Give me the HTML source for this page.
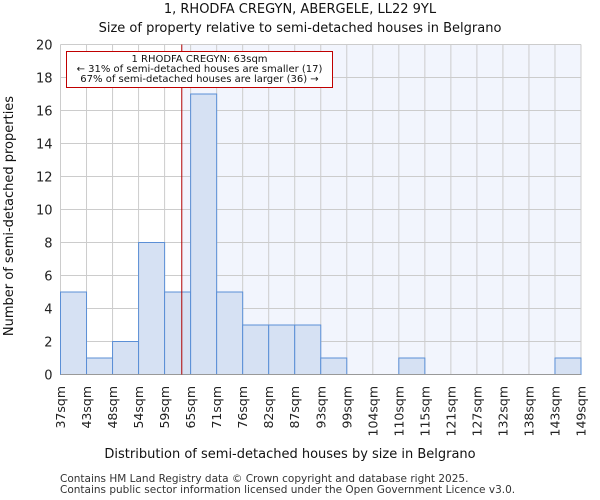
<!DOCTYPE html>
<html><head><meta charset="utf-8"><style>body{margin:0;background:#fff}svg{display:block;font-family:"DejaVu Sans","Liberation Sans",sans-serif}</style></head>
<body>
<svg id="c" width="600" height="500"></svg>
<script>
const labels=["37sqm","43sqm","48sqm","54sqm","59sqm","65sqm","71sqm","76sqm","82sqm","87sqm","93sqm","99sqm","104sqm","110sqm","115sqm","121sqm","127sqm","132sqm","138sqm","143sqm","149sqm"];
const counts=[5,1,2,8,5,17,5,3,3,3,1,0,0,1,0,0,0,0,0,1];
const yTicks=[0,2,4,6,8,10,12,14,16,18,20];
const propertyBinPos=4.66;
const NS="http://www.w3.org/2000/svg";
const svg=document.getElementById('c');
const L=60.5,R=581,T=44.5,B=374.5;
const bw=(R-L)/counts.length;
const x=i=>L+i*bw, y=v=>B-(v/20)*(B-T);
function mk(tag,attrs,parent){const e=document.createElementNS(NS,tag);for(const k in attrs)e.setAttribute(k,attrs[k]);(parent||svg).appendChild(e);return e;}
const px=x(propertyBinPos);
let e=mk('rect',{x:px,y:T,width:R-px,height:B-T,fill:'#f2f5fd'});


for(const t of yTicks){e=mk('line',{x1:L,x2:R,y1:y(t),y2:y(t),stroke:'#cccccc'});


e=mk('text',{x:L-8,y:y(t)+5,'text-anchor':'end','font-size':13,fill:'#222'});e.textContent=t;

}
labels.forEach((lb,i)=>{e=mk('line',{x1:x(i),x2:x(i),y1:T,y2:B,stroke:'#cccccc'});


e=mk('text',{transform:`translate(${x(i)+4.5},386) rotate(-90)`,'text-anchor':'end','font-size':12.5,fill:'#222'});e.textContent=lb;

});
counts.forEach((c,i)=>{if(!c)return;e=mk('rect',{x:x(i),y:y(c),width:bw,height:B-y(c),fill:'#d6e1f3',stroke:'#5b8fd6','stroke-width':1});

});
e=mk('line',{x1:L,x2:R,y1:B,y2:B,stroke:'#999'});


e=mk('line',{x1:px,x2:px,y1:T,y2:B,stroke:'#b00000','stroke-width':1});


e=mk('rect',{x:66.5,y:51.5,width:266,height:36,fill:'#fff',stroke:'#c00000'});


[["1 RHODFA CREGYN: 63sqm",62],["← 31% of semi-detached houses are smaller (17)",72],["67% of semi-detached houses are larger (36) →",82]].forEach(([t,yy])=>{e=mk('text',{x:199.5,y:yy,'text-anchor':'middle','font-size':10,fill:'#111'});e.textContent=t;

});
[["1, RHODFA CREGYN, ABERGELE, LL22 9YL",13,'chart-title'],["Size of property relative to semi-detached houses in Belgrano",32,'chart-subtitle']].forEach(([t,yy,n])=>{e=mk('text',{x:300,y:yy,'text-anchor':'middle','font-size':13,fill:'#111'});e.textContent=t;

});
e=mk('text',{x:290,y:458,'text-anchor':'middle','font-size':13,fill:'#111'});e.textContent="Distribution of semi-detached houses by size in Belgrano";


e=mk('text',{transform:'translate(13,216) rotate(-90)','text-anchor':'middle','font-size':13,fill:'#111'});e.textContent="Number of semi-detached properties";


[["Contains HM Land Registry data © Crown copyright and database right 2025.",482],["Contains public sector information licensed under the Open Government Licence v3.0.",493]].forEach(([t,yy])=>{e=mk('text',{x:60,y:yy,'font-size':10.5,fill:'#333'});e.textContent=t;

});
</script>
</body></html>
